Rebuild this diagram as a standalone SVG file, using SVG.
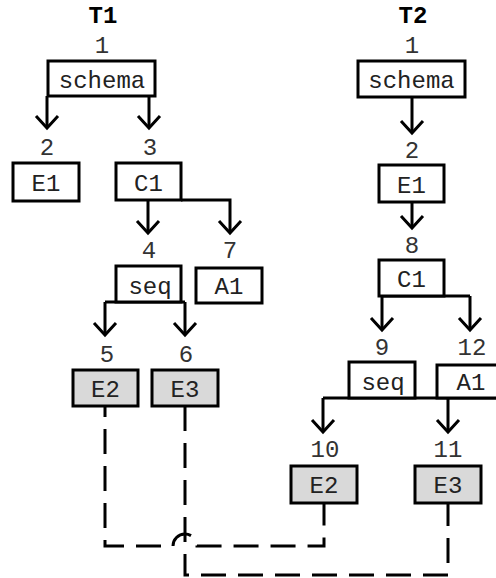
<svg xmlns="http://www.w3.org/2000/svg" width="496" height="578" viewBox="0 0 496 578">
<style>
  .box { fill: #ffffff; stroke: #000000; stroke-width: 3; }
  .leaf { fill: #d9d9d9; stroke: #000000; stroke-width: 3; }
  .t { font-family: "Liberation Mono", "Courier New", monospace; font-size: 24px; fill: #222222; text-anchor: middle; }
  .num { font-family: "Liberation Mono", "Courier New", monospace; font-size: 24px; fill: #333333; text-anchor: middle; }
  .title { font-family: "Liberation Mono", "Courier New", monospace; font-size: 24px; font-weight: bold; fill: #000000; text-anchor: middle; }
  .edge { fill: none; stroke: #000000; stroke-width: 3; marker-end: url(#arr); }
  .line { fill: none; stroke: #000000; stroke-width: 3; }
  .dash { fill: none; stroke: #000000; stroke-width: 3; stroke-dasharray: 25 12; }
</style>
<defs>
  <marker id="arr" markerUnits="userSpaceOnUse" markerWidth="30" markerHeight="30" refX="15" refY="15" orient="auto">
    <path d="M4,3 L15,15 L26,3" transform="rotate(-90 15 15)" fill="none" stroke="#000000" stroke-width="3"/>
  </marker>
</defs>
<rect width="496" height="578" fill="#ffffff"/>

<text class="title" x="103" y="23">T1</text>
<text class="title" x="413" y="23">T2</text>

<g id="connectors">
  <!-- T1 -->
  <path class="edge" d="M47,96 V128"/>
  <path class="edge" d="M149,96 V128"/>
  <path class="edge" d="M148,200 V233"/>
  <path class="edge" d="M181,200 H230 V233"/>
  <path class="line" d="M105,302 H185"/>
  <path class="edge" d="M105,302 V335"/>
  <path class="edge" d="M185,302 V335"/>
  <!-- T2 -->
  <path class="edge" d="M412,97 V133"/>
  <path class="edge" d="M412,202 V228"/>
  <path class="line" d="M382,296 H470"/>
  <path class="edge" d="M382,296 V330"/>
  <path class="edge" d="M470,296 V330"/>
  <path class="line" d="M323,398 H496"/>
  <path class="edge" d="M323,398 V432"/>
  <path class="edge" d="M448,398 V432"/>
  <!-- mapping (dashed) -->
  <path class="dash" stroke-dashoffset="14" d="M105,406 V546 H173 A12,12 0 0 1 197,546 H324 V503"/>
  <path class="dash" d="M185,406 V575 H448 V503"/>
</g>

<!-- T1 nodes -->
<g id="t1-n1">
  <text class="num" x="102" y="53">1</text>
  <rect class="box" x="48" y="61" width="107" height="35"/>
  <text class="t" x="102" y="88">schema</text>
</g>
<g id="t1-n2">
  <text class="num" x="47" y="155">2</text>
  <rect class="box" x="13" y="163" width="66" height="38"/>
  <text class="t" x="46" y="191">E1</text>
</g>
<g id="t1-n3">
  <text class="num" x="150" y="155">3</text>
  <rect class="box" x="116" y="163" width="65" height="37"/>
  <text class="t" x="148.5" y="191">C1</text>
</g>
<g id="t1-n4">
  <text class="num" x="149" y="258">4</text>
  <rect class="box" x="116" y="266" width="65" height="36"/>
  <text class="t" x="150" y="294">seq</text>
</g>
<g id="t1-n7">
  <text class="num" x="230" y="258">7</text>
  <rect class="box" x="196" y="268" width="66" height="35"/>
  <text class="t" x="229" y="294">A1</text>
</g>
<g id="t1-n5">
  <text class="num" x="107" y="362">5</text>
  <rect class="leaf" x="73" y="370" width="65" height="36"/>
  <text class="t" x="105.5" y="397">E2</text>
</g>
<g id="t1-n6">
  <text class="num" x="186" y="362">6</text>
  <rect class="leaf" x="152" y="370" width="66" height="36"/>
  <text class="t" x="185" y="397">E3</text>
</g>

<!-- T2 nodes -->
<g id="t2-n1">
  <text class="num" x="412" y="53">1</text>
  <rect class="box" x="358" y="61" width="107" height="36"/>
  <text class="t" x="411.5" y="88">schema</text>
</g>
<g id="t2-n2">
  <text class="num" x="412" y="158">2</text>
  <rect class="box" x="379" y="165" width="65" height="37"/>
  <text class="t" x="411.5" y="193">E1</text>
</g>
<g id="t2-n8">
  <text class="num" x="412" y="253">8</text>
  <rect class="box" x="379" y="260" width="65" height="36"/>
  <text class="t" x="411.5" y="287">C1</text>
</g>
<g id="t2-n9">
  <text class="num" x="382" y="355">9</text>
  <rect class="box" x="349" y="362" width="66" height="36"/>
  <text class="t" x="383" y="390">seq</text>
</g>
<g id="t2-n12">
  <text class="num" x="472" y="355">12</text>
  <rect class="box" x="437" y="365" width="68" height="33"/>
  <text class="t" x="471" y="390">A1</text>
</g>
<g id="t2-n10">
  <text class="num" x="325" y="457">10</text>
  <rect class="leaf" x="291" y="466" width="66" height="37"/>
  <text class="t" x="324" y="493">E2</text>
</g>
<g id="t2-n11">
  <text class="num" x="448" y="457">11</text>
  <rect class="leaf" x="415" y="466" width="66" height="37"/>
  <text class="t" x="448" y="493">E3</text>
</g>
</svg>
